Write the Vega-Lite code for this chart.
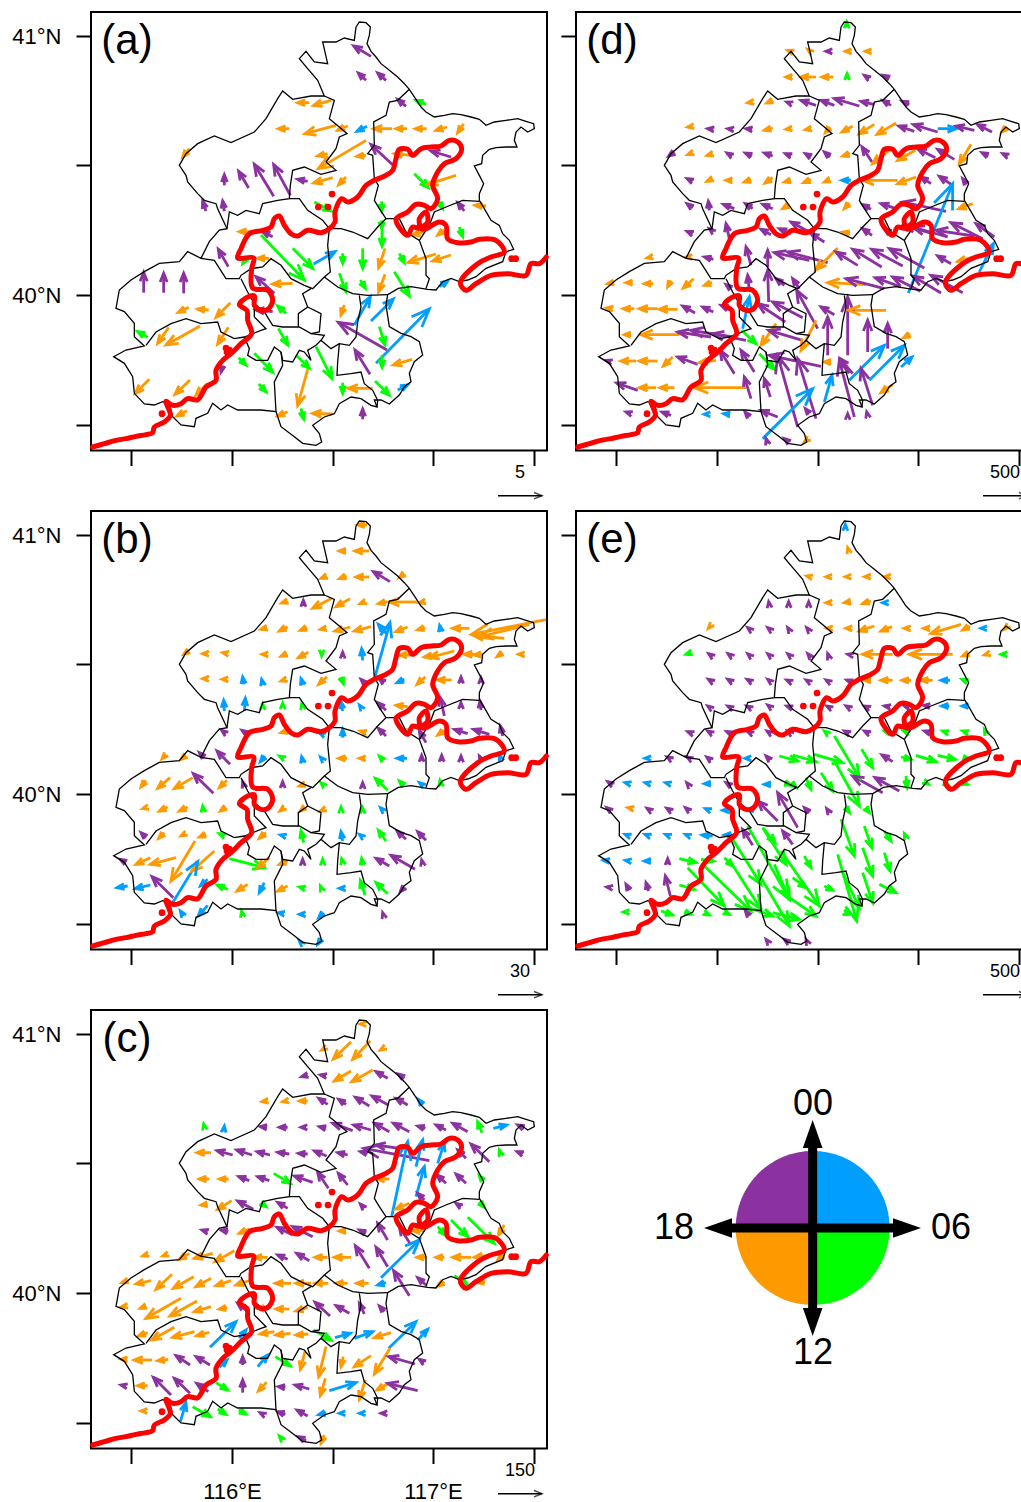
{"$schema":"https://vega.github.io/schema/vega-lite/v6.json","padding":{"left":10,"top":11,"right":0,"bottom":0},"autosize":{"type":"pad"},"background":"white","config":{"view":{"stroke":"black","strokeWidth":2},"font":"Liberation Sans"},
"datasets":{
"black":[{"g":1,"x":795,"y":45},{"g":1,"x":805,"y":30},{"g":1,"x":825,"y":32},{"g":1,"x":838,"y":45},{"g":1,"x":835,"y":70},{"g":1,"x":828,"y":95},{"g":1,"x":840,"y":118},{"g":1,"x":855,"y":135},{"g":1,"x":870,"y":155},{"g":1,"x":895,"y":175},{"g":1,"x":920,"y":195},{"g":1,"x":940,"y":215},{"g":1,"x":955,"y":232},{"g":1,"x":975,"y":262},{"g":1,"x":990,"y":285},{"g":1,"x":1005,"y":300},{"g":1,"x":1030,"y":315},{"g":1,"x":1060,"y":310},{"g":1,"x":1085,"y":305},{"g":1,"x":1110,"y":308},{"g":1,"x":1140,"y":315},{"g":1,"x":1165,"y":322},{"g":1,"x":1185,"y":340},{"g":1,"x":1210,"y":330},{"g":1,"x":1245,"y":325},{"g":1,"x":1280,"y":320},{"g":1,"x":1305,"y":328},{"g":1,"x":1328,"y":335},{"g":1,"x":1330,"y":350},{"g":1,"x":1310,"y":360},{"g":1,"x":1290,"y":345},{"g":1,"x":1275,"y":360},{"g":1,"x":1270,"y":385},{"g":1,"x":1278,"y":405},{"g":1,"x":1245,"y":405},{"g":1,"x":1215,"y":407},{"g":1,"x":1195,"y":412},{"g":1,"x":1175,"y":430},{"g":1,"x":1172,"y":455},{"g":1,"x":1150,"y":462},{"g":1,"x":1165,"y":490},{"g":1,"x":1178,"y":515},{"g":1,"x":1165,"y":545},{"g":1,"x":1165,"y":565},{"g":1,"x":1180,"y":590},{"g":1,"x":1200,"y":625},{"g":1,"x":1225,"y":640},{"g":1,"x":1235,"y":665},{"g":1,"x":1255,"y":685},{"g":1,"x":1268,"y":712},{"g":1,"x":1245,"y":719},{"g":1,"x":1235,"y":749},{"g":1,"x":1185,"y":769},{"g":1,"x":1155,"y":794},{"g":1,"x":1130,"y":804},{"g":1,"x":1105,"y":809},{"g":1,"x":1080,"y":799},{"g":1,"x":1055,"y":809},{"g":1,"x":1035,"y":834},{"g":1,"x":1010,"y":832},{"g":1,"x":960,"y":824},{"g":1,"x":922,"y":829},{"g":1,"x":890,"y":848},{"g":1,"x":885,"y":880},{"g":1,"x":895,"y":944},{"g":1,"x":930,"y":964},{"g":1,"x":960,"y":974},{"g":1,"x":985,"y":989},{"g":1,"x":995,"y":1029},{"g":1,"x":970,"y":1049},{"g":1,"x":955,"y":1084},{"g":1,"x":960,"y":1109},{"g":1,"x":940,"y":1124},{"g":1,"x":925,"y":1149},{"g":1,"x":895,"y":1176},{"g":1,"x":870,"y":1164},{"g":1,"x":850,"y":1164},{"g":1,"x":858,"y":1185},{"g":1,"x":840,"y":1180},{"g":1,"x":810,"y":1160},{"g":1,"x":780,"y":1155},{"g":1,"x":745,"y":1175},{"g":1,"x":730,"y":1205},{"g":1,"x":700,"y":1215},{"g":1,"x":665,"y":1240},{"g":1,"x":685,"y":1265},{"g":1,"x":692,"y":1290},{"g":1,"x":675,"y":1300},{"g":1,"x":635,"y":1294},{"g":1,"x":610,"y":1274},{"g":1,"x":570,"y":1244},{"g":1,"x":555,"y":1199},{"g":1,"x":510,"y":1194},{"g":1,"x":480,"y":1194},{"g":1,"x":440,"y":1194},{"g":1,"x":410,"y":1179},{"g":1,"x":390,"y":1194},{"g":1,"x":365,"y":1174},{"g":1,"x":350,"y":1204},{"g":1,"x":315,"y":1219},{"g":1,"x":310,"y":1244},{"g":1,"x":270,"y":1239},{"g":1,"x":245,"y":1214},{"g":1,"x":235,"y":1174},{"g":1,"x":215,"y":1169},{"g":1,"x":190,"y":1179},{"g":1,"x":160,"y":1176},{"g":1,"x":130,"y":1144},{"g":1,"x":125,"y":1094},{"g":1,"x":100,"y":1054},{"g":1,"x":68,"y":1034},{"g":1,"x":105,"y":1014},{"g":1,"x":160,"y":1002},{"g":1,"x":130,"y":974},{"g":1,"x":130,"y":934},{"g":1,"x":100,"y":899},{"g":1,"x":75,"y":889},{"g":1,"x":85,"y":834},{"g":1,"x":120,"y":804},{"g":1,"x":160,"y":779},{"g":1,"x":205,"y":754},{"g":1,"x":265,"y":749},{"g":1,"x":290,"y":719},{"g":1,"x":330,"y":739},{"g":1,"x":355,"y":689},{"g":1,"x":385,"y":654},{"g":1,"x":408,"y":650},{"g":1,"x":380,"y":590},{"g":1,"x":375,"y":575},{"g":1,"x":340,"y":565},{"g":1,"x":320,"y":545},{"g":1,"x":290,"y":510},{"g":1,"x":285,"y":490},{"g":1,"x":265,"y":460},{"g":1,"x":285,"y":425},{"g":1,"x":320,"y":395},{"g":1,"x":370,"y":372},{"g":1,"x":420,"y":392},{"g":1,"x":490,"y":360},{"g":1,"x":525,"y":320},{"g":1,"x":560,"y":260},{"g":1,"x":575,"y":237},{"g":1,"x":605,"y":262},{"g":1,"x":660,"y":252},{"g":1,"x":700,"y":252},{"g":1,"x":680,"y":205},{"g":1,"x":650,"y":170},{"g":1,"x":625,"y":140},{"g":1,"x":645,"y":118},{"g":1,"x":670,"y":150},{"g":1,"x":710,"y":155},{"g":1,"x":695,"y":90},{"g":1,"x":735,"y":90},{"g":1,"x":760,"y":78},{"g":1,"x":790,"y":85},{"g":1,"x":795,"y":45},
{"g":2,"x":700,"y":252},{"g":2,"x":730,"y":265},{"g":2,"x":715,"y":320},{"g":2,"x":745,"y":345},{"g":2,"x":768,"y":365},{"g":2,"x":745,"y":375},{"g":2,"x":735,"y":410},{"g":2,"x":705,"y":450},{"g":2,"x":735,"y":475},{"g":2,"x":690,"y":487},{"g":2,"x":640,"y":465},{"g":2,"x":605,"y":475},{"g":2,"x":598,"y":520},{"g":2,"x":595,"y":560},{"g":2,"x":560,"y":565},{"g":2,"x":515,"y":575},{"g":2,"x":505,"y":605},{"g":2,"x":465,"y":595},{"g":2,"x":440,"y":610},{"g":2,"x":415,"y":600},{"g":2,"x":408,"y":650},
{"g":3,"x":595,"y":560},{"g":3,"x":625,"y":560},{"g":3,"x":650,"y":595},{"g":3,"x":695,"y":625},{"g":3,"x":715,"y":650},{"g":3,"x":710,"y":700},{"g":3,"x":718,"y":780},{"g":3,"x":700,"y":795},{"g":3,"x":665,"y":830},{"g":3,"x":640,"y":820},{"g":3,"x":600,"y":800},{"g":3,"x":570,"y":760},{"g":3,"x":540,"y":740},{"g":3,"x":515,"y":765},{"g":3,"x":480,"y":770},{"g":3,"x":450,"y":790},{"g":3,"x":445,"y":800},{"g":3,"x":405,"y":800},{"g":3,"x":370,"y":745},{"g":3,"x":330,"y":739},
{"g":4,"x":715,"y":650},{"g":4,"x":750,"y":650},{"g":4,"x":785,"y":660},{"g":4,"x":830,"y":680},{"g":4,"x":860,"y":645},{"g":4,"x":885,"y":620},{"g":4,"x":865,"y":590},{"g":4,"x":850,"y":565},{"g":4,"x":862,"y":520},{"g":4,"x":850,"y":500},{"g":4,"x":845,"y":430},{"g":4,"x":830,"y":425},{"g":4,"x":850,"y":400},{"g":4,"x":848,"y":330},{"g":4,"x":885,"y":310},{"g":4,"x":895,"y":270},{"g":4,"x":920,"y":265},{"g":4,"x":955,"y":232},
{"g":5,"x":885,"y":620},{"g":5,"x":925,"y":620},{"g":5,"x":945,"y":660},{"g":5,"x":985,"y":685},{"g":5,"x":1005,"y":740},{"g":5,"x":1005,"y":790},{"g":5,"x":1015,"y":800},{"g":5,"x":1005,"y":830},
{"g":6,"x":985,"y":685},{"g":6,"x":1015,"y":640},{"g":6,"x":1030,"y":600},{"g":6,"x":1065,"y":585},{"g":6,"x":1115,"y":565},{"g":6,"x":1165,"y":568},
{"g":7,"x":700,"y":795},{"g":7,"x":740,"y":825},{"g":7,"x":785,"y":845},{"g":7,"x":830,"y":850},{"g":7,"x":890,"y":848},
{"g":8,"x":805,"y":850},{"g":8,"x":810,"y":885},{"g":8,"x":800,"y":930},{"g":8,"x":795,"y":975},{"g":8,"x":775,"y":1000},{"g":8,"x":745,"y":995},{"g":8,"x":720,"y":1010},{"g":8,"x":690,"y":985},{"g":8,"x":700,"y":970},{"g":8,"x":660,"y":965},{"g":8,"x":625,"y":945},{"g":8,"x":575,"y":945},{"g":8,"x":545,"y":940},{"g":8,"x":520,"y":900},{"g":8,"x":490,"y":875},{"g":8,"x":470,"y":840},{"g":8,"x":450,"y":800},
{"g":9,"x":660,"y":830},{"g":9,"x":635,"y":845},{"g":9,"x":650,"y":885},{"g":9,"x":622,"y":905},{"g":9,"x":622,"y":945},
{"g":10,"x":650,"y":885},{"g":10,"x":690,"y":905},{"g":10,"x":685,"y":960},{"g":10,"x":660,"y":965},
{"g":11,"x":490,"y":880},{"g":11,"x":490,"y":915},{"g":11,"x":525,"y":950},{"g":11,"x":510,"y":955},{"g":11,"x":460,"y":975},{"g":11,"x":430,"y":980},{"g":11,"x":390,"y":960},{"g":11,"x":380,"y":930},{"g":11,"x":330,"y":935},{"g":11,"x":285,"y":920},{"g":11,"x":240,"y":935},{"g":11,"x":195,"y":960},{"g":11,"x":165,"y":1000},
{"g":12,"x":460,"y":975},{"g":12,"x":475,"y":1010},{"g":12,"x":470,"y":1030},{"g":12,"x":495,"y":1045},{"g":12,"x":530,"y":1045},{"g":12,"x":550,"y":1005},{"g":12,"x":570,"y":1020},{"g":12,"x":575,"y":1045},{"g":12,"x":605,"y":1050},{"g":12,"x":625,"y":1015},{"g":12,"x":640,"y":1020},{"g":12,"x":660,"y":1045},{"g":12,"x":650,"y":1015},{"g":12,"x":675,"y":1000},{"g":12,"x":690,"y":985},
{"g":13,"x":745,"y":995},{"g":13,"x":740,"y":1050},{"g":13,"x":738,"y":1090},{"g":13,"x":780,"y":1085},{"g":13,"x":810,"y":1080},{"g":13,"x":820,"y":1115},{"g":13,"x":845,"y":1135},{"g":13,"x":860,"y":1165},{"g":13,"x":858,"y":1185},
{"g":14,"x":570,"y":1020},{"g":14,"x":575,"y":1060},{"g":14,"x":550,"y":1110},{"g":14,"x":555,"y":1199}],
"red":[{"g":1,"x":5,"y":1305},{"g":1,"x":40,"y":1295},{"g":1,"x":75,"y":1285},{"g":1,"x":105,"y":1280},{"g":1,"x":135,"y":1273},{"g":1,"x":165,"y":1268},{"g":1,"x":185,"y":1262},{"g":1,"x":190,"y":1245},{"g":1,"x":220,"y":1230},{"g":1,"x":238,"y":1210},{"g":1,"x":225,"y":1168},{"g":1,"x":245,"y":1180},{"g":1,"x":270,"y":1175},{"g":1,"x":290,"y":1160},{"g":1,"x":320,"y":1163},{"g":1,"x":345,"y":1125},{"g":1,"x":375,"y":1105},{"g":1,"x":375,"y":1075},{"g":1,"x":395,"y":1045},{"g":1,"x":420,"y":1025},{"g":1,"x":450,"y":995},{"g":1,"x":482,"y":965},{"g":1,"x":470,"y":925},{"g":1,"x":468,"y":895},{"g":1,"x":445,"y":878},{"g":1,"x":470,"y":855},{"g":1,"x":490,"y":852},{"g":1,"x":490,"y":880},{"g":1,"x":510,"y":895},{"g":1,"x":530,"y":892},{"g":1,"x":545,"y":865},{"g":1,"x":530,"y":835},{"g":1,"x":485,"y":828},{"g":1,"x":482,"y":770},{"g":1,"x":488,"y":738},{"g":1,"x":440,"y":738},{"g":1,"x":450,"y":710},{"g":1,"x":475,"y":665},{"g":1,"x":515,"y":655},{"g":1,"x":540,"y":645},{"g":1,"x":550,"y":620},{"g":1,"x":565,"y":612},{"g":1,"x":580,"y":640},{"g":1,"x":600,"y":665},{"g":1,"x":620,"y":672},{"g":1,"x":650,"y":655},{"g":1,"x":690,"y":662},{"g":1,"x":715,"y":650},{"g":1,"x":732,"y":630},{"g":1,"x":732,"y":600},{"g":1,"x":752,"y":560},{"g":1,"x":770,"y":570},{"g":1,"x":800,"y":555},{"g":1,"x":825,"y":520},{"g":1,"x":850,"y":505},{"g":1,"x":885,"y":490},{"g":1,"x":905,"y":475},{"g":1,"x":915,"y":440},{"g":1,"x":925,"y":412},{"g":1,"x":950,"y":412},{"g":1,"x":965,"y":430},{"g":1,"x":990,"y":410},{"g":1,"x":1020,"y":405},{"g":1,"x":1050,"y":402},{"g":1,"x":1075,"y":385},{"g":1,"x":1100,"y":390},{"g":1,"x":1112,"y":410},{"g":1,"x":1095,"y":440},{"g":1,"x":1060,"y":455},{"g":1,"x":1040,"y":480},{"g":1,"x":1025,"y":520},{"g":1,"x":1040,"y":560},{"g":1,"x":1020,"y":590},{"g":1,"x":1000,"y":580},{"g":1,"x":975,"y":577},{"g":1,"x":950,"y":600},{"g":1,"x":915,"y":622},{"g":1,"x":950,"y":670},{"g":1,"x":965,"y":645},{"g":1,"x":985,"y":648},{"g":1,"x":985,"y":620},{"g":1,"x":1005,"y":600},{"g":1,"x":1010,"y":630},{"g":1,"x":990,"y":650},{"g":1,"x":1005,"y":650},{"g":1,"x":1045,"y":630},{"g":1,"x":1065,"y":640},{"g":1,"x":1070,"y":680},{"g":1,"x":1100,"y":692},{"g":1,"x":1140,"y":690},{"g":1,"x":1165,"y":682},{"g":1,"x":1215,"y":685},{"g":1,"x":1240,"y":720},{"g":1,"x":1200,"y":735},{"g":1,"x":1160,"y":755},{"g":1,"x":1108,"y":812},{"g":1,"x":1125,"y":835},{"g":1,"x":1155,"y":815},{"g":1,"x":1200,"y":790},{"g":1,"x":1250,"y":785},{"g":1,"x":1305,"y":790},{"g":1,"x":1320,"y":755},{"g":1,"x":1345,"y":755},{"g":1,"x":1366,"y":735}],
"dots":[{"x":723,"y":546},{"x":682,"y":585},{"x":711,"y":585},{"x":1262,"y":740},{"x":1274,"y":740},{"x":405,"y":1008},{"x":415,"y":1014},{"x":408,"y":1020},{"x":213,"y":1205}],
"a":[{"x":620,"y":272,"u":655,"v":272,"c":"o"},{"x":668,"y":280,"u":720,"v":265,"c":"o"},{"x":562,"y":350,"u":595,"v":350,"c":"o"},{"x":642,"y":365,"u":735,"v":340,"c":"o"},{"x":682,"y":470,"u":825,"v":385,"c":"o"},{"x":668,"y":513,"u":725,"v":497,"c":"o"},{"x":275,"y":435,"u":295,"v":410,"c":"o"},{"x":400,"y":488,"u":400,"v":520,"c":"p"},{"x":443,"y":478,"u":473,"v":528,"c":"p"},{"x":490,"y":457,"u":548,"v":553,"c":"p"},{"x":548,"y":458,"u":598,"v":550,"c":"p"},{"x":620,"y":502,"u":650,"v":508,"c":"p"},{"x":395,"y":567,"u":400,"v":598,"c":"p"},{"x":335,"y":568,"u":345,"v":597,"c":"p"},{"x":720,"y":597,"u":670,"v":570,"c":"g"},{"x":788,"y":102,"u":840,"v":133,"c":"p"},{"x":802,"y":183,"u":825,"v":205,"c":"p"},{"x":860,"y":183,"u":885,"v":205,"c":"p"},{"x":920,"y":262,"u":945,"v":283,"c":"p"},{"x":975,"y":265,"u":1005,"v":277,"c":"g"},{"x":740,"y":355,"u":770,"v":342,"c":"o"},{"x":798,"y":358,"u":828,"v":343,"c":"b"},{"x":848,"y":350,"u":903,"v":350,"c":"o"},{"x":915,"y":350,"u":948,"v":350,"c":"o"},{"x":973,"y":350,"u":1007,"v":350,"c":"o"},{"x":1035,"y":355,"u":1068,"v":345,"c":"o"},{"x":1100,"y":362,"u":1118,"v":335,"c":"o"},{"x":840,"y":398,"u":905,"v":458,"c":"p"},{"x":1020,"y":417,"u":1080,"v":435,"c":"p"},{"x":910,"y":425,"u":960,"v":430,"c":"o"},{"x":798,"y":433,"u":825,"v":430,"c":"o"},{"x":680,"y":432,"u":710,"v":425,"c":"o"},{"x":1012,"y":527,"u":970,"v":485,"c":"g"},{"x":1010,"y":517,"u":1095,"v":490,"c":"o"},{"x":743,"y":518,"u":765,"v":495,"c":"o"},{"x":872,"y":597,"u":872,"v":568,"c":"g"},{"x":1055,"y":590,"u":1045,"v":570,"c":"g"},{"x":1100,"y":572,"u":1120,"v":597,"c":"p"},{"x":1152,"y":580,"u":1185,"v":582,"c":"o"},{"x":872,"y":650,"u":872,"v":625,"c":"g"},{"x":1115,"y":674,"u":1105,"v":645,"c":"g"},{"x":1040,"y":669,"u":1060,"v":654,"c":"o"},{"x":965,"y":669,"u":1000,"v":659,"c":"o"},{"x":873,"y":702,"u":873,"v":654,"c":"g"},{"x":755,"y":754,"u":755,"v":724,"c":"g"},{"x":815,"y":769,"u":815,"v":709,"c":"g"},{"x":863,"y":767,"u":882,"v":709,"c":"o"},{"x":940,"y":752,"u":925,"v":724,"c":"g"},{"x":952,"y":751,"u":1035,"v":726,"c":"o"},{"x":1025,"y":747,"u":1080,"v":729,"c":"o"},{"x":732,"y":719,"u":668,"v":756,"c":"b"},{"x":765,"y":839,"u":745,"v":784,"c":"g"},{"x":823,"y":829,"u":808,"v":804,"c":"g"},{"x":863,"y":839,"u":882,"v":787,"c":"o"},{"x":955,"y":852,"u":910,"v":779,"c":"g"},{"x":1070,"y":807,"u":1045,"v":824,"c":"b"},{"x":838,"y":854,"u":790,"v":939,"c":"b"},{"x":907,"y":861,"u":840,"v":927,"c":"b"},{"x":1015,"y":891,"u":855,"v":1054,"c":"b"},{"x":750,"y":909,"u":760,"v":879,"c":"o"},{"x":742,"y":931,"u":888,"v":1014,"c":"p"},{"x":792,"y":1014,"u":837,"v":1087,"c":"p"},{"x":882,"y":999,"u":865,"v":944,"c":"g"},{"x":873,"y":1066,"u":873,"v":1029,"c":"g"},{"x":907,"y":1059,"u":963,"v":1042,"c":"o"},{"x":723,"y":1099,"u":675,"v":1004,"c":"g"},{"x":755,"y":1144,"u":755,"v":1112,"c":"g"},{"x":772,"y":1129,"u":845,"v":1129,"c":"o"},{"x":895,"y":1149,"u":852,"v":1107,"c":"g"},{"x":950,"y":1119,"u":920,"v":1134,"c":"b"},{"x":665,"y":1204,"u":725,"v":1206,"c":"o"},{"x":815,"y":1191,"u":815,"v":1222,"c":"p"},{"x":158,"y":781,"u":158,"v":842,"c":"p"},{"x":218,"y":784,"u":218,"v":842,"c":"p"},{"x":278,"y":784,"u":278,"v":844,"c":"p"},{"x":382,"y":712,"u":412,"v":764,"c":"p"},{"x":445,"y":659,"u":475,"v":659,"c":"o"},{"x":515,"y":659,"u":545,"v":674,"c":"p"},{"x":640,"y":804,"u":510,"v":669,"c":"g"},{"x":665,"y":769,"u":605,"v":709,"c":"g"},{"x":500,"y":739,"u":535,"v":739,"c":"o"},{"x":455,"y":755,"u":465,"v":740,"c":"g"},{"x":495,"y":794,"u":550,"v":844,"c":"p"},{"x":545,"y":816,"u":605,"v":814,"c":"o"},{"x":560,"y":882,"u":585,"v":904,"c":"g"},{"x":495,"y":894,"u":545,"v":899,"c":"p"},{"x":262,"y":901,"u":293,"v":886,"c":"o"},{"x":320,"y":891,"u":353,"v":894,"c":"o"},{"x":375,"y":916,"u":418,"v":872,"c":"o"},{"x":140,"y":959,"u":170,"v":976,"c":"g"},{"x":200,"y":994,"u":233,"v":946,"c":"o"},{"x":225,"y":999,"u":327,"v":942,"c":"o"},{"x":380,"y":996,"u":412,"v":946,"c":"o"},{"x":590,"y":999,"u":562,"v":949,"c":"g"},{"x":465,"y":1059,"u":443,"v":1037,"c":"g"},{"x":545,"y":1081,"u":490,"v":1024,"c":"g"},{"x":655,"y":1069,"u":615,"v":1029,"c":"g"},{"x":525,"y":1139,"u":503,"v":1116,"c":"g"},{"x":620,"y":1181,"u":650,"v":1072,"c":"o"},{"x":638,"y":1221,"u":630,"v":1189,"c":"g"},{"x":133,"y":1144,"u":175,"v":1102,"c":"o"},{"x":252,"y":1147,"u":297,"v":1104,"c":"o"},{"x":315,"y":1149,"u":350,"v":1114,"c":"o"},{"x":258,"y":1212,"u":288,"v":1196,"c":"o"},{"x":560,"y":1212,"u":590,"v":1199,"c":"o"},{"x":390,"y":1080,"u":395,"v":1060,"c":"p"}],
"b":[{"x":800,"y":42,"u":828,"v":42,"c":"o"},{"x":745,"y":120,"u":765,"v":120,"c":"o"},{"x":792,"y":120,"u":835,"v":120,"c":"o"},{"x":690,"y":202,"u":707,"v":195,"c":"o"},{"x":745,"y":203,"u":767,"v":195,"c":"o"},{"x":795,"y":198,"u":835,"v":198,"c":"o"},{"x":847,"y":182,"u":897,"v":212,"c":"p"},{"x":925,"y":200,"u":940,"v":188,"c":"o"},{"x":572,"y":276,"u":590,"v":270,"c":"o"},{"x":637,"y":268,"u":637,"v":285,"c":"p"},{"x":665,"y":292,"u":722,"v":262,"c":"o"},{"x":735,"y":287,"u":777,"v":263,"c":"o"},{"x":807,"y":278,"u":822,"v":272,"c":"o"},{"x":862,"y":278,"u":890,"v":272,"c":"o"},{"x":895,"y":273,"u":978,"v":273,"c":"o"},{"x":985,"y":275,"u":1000,"v":272,"c":"o"},{"x":510,"y":355,"u":528,"v":350,"c":"o"},{"x":565,"y":360,"u":590,"v":347,"c":"o"},{"x":628,"y":358,"u":648,"v":350,"c":"o"},{"x":688,"y":355,"u":705,"v":352,"c":"o"},{"x":732,"y":360,"u":778,"v":348,"c":"o"},{"x":790,"y":360,"u":840,"v":347,"c":"o"},{"x":897,"y":335,"u":852,"v":497,"c":"b"},{"x":862,"y":340,"u":888,"v":370,"c":"b"},{"x":915,"y":362,"u":950,"v":348,"c":"o"},{"x":980,"y":356,"u":1002,"v":350,"c":"o"},{"x":1046,"y":343,"u":1050,"v":362,"c":"b"},{"x":1085,"y":352,"u":1135,"v":352,"c":"o"},{"x":1142,"y":370,"u":1365,"v":326,"c":"o"},{"x":1165,"y":378,"u":1315,"v":340,"c":"o"},{"x":1145,"y":372,"u":1240,"v":382,"c":"o"},{"x":335,"y":428,"u":350,"v":428,"c":"o"},{"x":395,"y":425,"u":410,"v":428,"c":"o"},{"x":278,"y":430,"u":292,"v":420,"c":"o"},{"x":513,"y":430,"u":528,"v":430,"c":"o"},{"x":570,"y":436,"u":588,"v":428,"c":"o"},{"x":622,"y":440,"u":652,"v":424,"c":"o"},{"x":692,"y":435,"u":692,"v":422,"c":"g"},{"x":755,"y":424,"u":755,"v":438,"c":"p"},{"x":812,"y":413,"u":815,"v":448,"c":"b"},{"x":1015,"y":440,"u":1090,"v":420,"c":"o"},{"x":925,"y":432,"u":960,"v":432,"c":"o"},{"x":1000,"y":438,"u":1040,"v":432,"c":"o"},{"x":1120,"y":430,"u":1165,"v":430,"c":"o"},{"x":1150,"y":432,"u":1175,"v":430,"c":"o"},{"x":1218,"y":437,"u":1235,"v":425,"c":"o"},{"x":1282,"y":430,"u":1298,"v":430,"c":"o"},{"x":335,"y":503,"u":350,"v":503,"c":"o"},{"x":393,"y":505,"u":408,"v":505,"c":"o"},{"x":455,"y":498,"u":458,"v":520,"c":"b"},{"x":512,"y":505,"u":516,"v":522,"c":"b"},{"x":570,"y":510,"u":585,"v":505,"c":"o"},{"x":630,"y":503,"u":636,"v":522,"c":"b"},{"x":683,"y":520,"u":708,"v":497,"c":"o"},{"x":757,"y":518,"u":750,"v":498,"c":"g"},{"x":810,"y":505,"u":820,"v":515,"c":"p"},{"x":865,"y":503,"u":880,"v":515,"c":"p"},{"x":918,"y":515,"u":940,"v":505,"c":"b"},{"x":978,"y":520,"u":1003,"v":497,"c":"o"},{"x":1040,"y":507,"u":1082,"v":507,"c":"o"},{"x":1110,"y":498,"u":1110,"v":515,"c":"p"},{"x":1170,"y":500,"u":1170,"v":515,"c":"p"},{"x":398,"y":568,"u":400,"v":600,"c":"b"},{"x":463,"y":562,"u":460,"v":600,"c":"b"},{"x":515,"y":578,"u":515,"v":592,"c":"g"},{"x":575,"y":576,"u":575,"v":590,"c":"g"},{"x":632,"y":578,"u":635,"v":590,"c":"g"},{"x":750,"y":572,"u":755,"v":600,"c":"b"},{"x":805,"y":582,"u":812,"v":592,"c":"b"},{"x":860,"y":575,"u":885,"v":598,"c":"p"},{"x":915,"y":583,"u":950,"v":587,"c":"o"},{"x":1048,"y":560,"u":1060,"v":615,"c":"p"},{"x":1110,"y":575,"u":1110,"v":590,"c":"p"},{"x":1167,"y":570,"u":1170,"v":597,"c":"p"},{"x":392,"y":658,"u":405,"v":668,"c":"p"},{"x":453,"y":658,"u":468,"v":668,"c":"p"},{"x":570,"y":665,"u":590,"v":660,"c":"o"},{"x":685,"y":665,"u":700,"v":672,"c":"b"},{"x":755,"y":655,"u":755,"v":680,"c":"b"},{"x":808,"y":660,"u":825,"v":665,"c":"o"},{"x":862,"y":652,"u":885,"v":675,"c":"p"},{"x":930,"y":655,"u":945,"v":662,"c":"o"},{"x":985,"y":660,"u":1005,"v":695,"c":"p"},{"x":1040,"y":672,"u":1060,"v":658,"c":"o"},{"x":1090,"y":655,"u":1130,"v":668,"c":"p"},{"x":1147,"y":655,"u":1195,"v":670,"c":"p"},{"x":1228,"y":645,"u":1235,"v":675,"c":"p"},{"x":213,"y":743,"u":225,"v":730,"c":"o"},{"x":270,"y":745,"u":285,"v":733,"c":"o"},{"x":325,"y":725,"u":340,"v":740,"c":"p"},{"x":378,"y":720,"u":417,"v":760,"c":"p"},{"x":508,"y":752,"u":522,"v":735,"c":"b"},{"x":565,"y":735,"u":578,"v":742,"c":"g"},{"x":632,"y":737,"u":636,"v":755,"c":"b"},{"x":688,"y":738,"u":697,"v":748,"c":"b"},{"x":743,"y":742,"u":768,"v":742,"c":"o"},{"x":805,"y":742,"u":822,"v":742,"c":"o"},{"x":865,"y":735,"u":877,"v":748,"c":"g"},{"x":918,"y":742,"u":948,"v":742,"c":"b"},{"x":992,"y":733,"u":992,"v":750,"c":"p"},{"x":1052,"y":733,"u":1052,"v":750,"c":"p"},{"x":1110,"y":735,"u":1110,"v":750,"c":"p"},{"x":1165,"y":735,"u":1170,"v":745,"c":"p"},{"x":1225,"y":733,"u":1230,"v":745,"c":"b"},{"x":150,"y":828,"u":165,"v":808,"c":"o"},{"x":200,"y":832,"u":237,"v":800,"c":"o"},{"x":250,"y":833,"u":305,"v":800,"c":"o"},{"x":307,"y":788,"u":367,"v":847,"c":"p"},{"x":385,"y":830,"u":408,"v":808,"c":"o"},{"x":455,"y":812,"u":460,"v":828,"c":"p"},{"x":575,"y":812,"u":575,"v":828,"c":"p"},{"x":625,"y":825,"u":640,"v":820,"c":"o"},{"x":690,"y":815,"u":697,"v":822,"c":"g"},{"x":815,"y":815,"u":815,"v":830,"c":"p"},{"x":853,"y":802,"u":890,"v":838,"c":"g"},{"x":925,"y":810,"u":940,"v":825,"c":"g"},{"x":985,"y":815,"u":998,"v":825,"c":"b"},{"x":1047,"y":808,"u":1050,"v":825,"c":"g"},{"x":155,"y":893,"u":165,"v":890,"c":"o"},{"x":205,"y":900,"u":230,"v":888,"c":"o"},{"x":265,"y":900,"u":290,"v":888,"c":"o"},{"x":335,"y":885,"u":337,"v":900,"c":"g"},{"x":388,"y":900,"u":405,"v":888,"c":"o"},{"x":567,"y":900,"u":580,"v":890,"c":"o"},{"x":628,"y":900,"u":640,"v":890,"c":"o"},{"x":688,"y":900,"u":700,"v":895,"c":"o"},{"x":750,"y":888,"u":750,"v":900,"c":"g"},{"x":815,"y":890,"u":815,"v":900,"c":"g"},{"x":868,"y":890,"u":878,"v":900,"c":"b"},{"x":150,"y":965,"u":165,"v":980,"c":"p"},{"x":203,"y":982,"u":220,"v":965,"c":"o"},{"x":270,"y":975,"u":283,"v":968,"c":"o"},{"x":325,"y":978,"u":345,"v":970,"c":"o"},{"x":385,"y":968,"u":400,"v":975,"c":"g"},{"x":505,"y":982,"u":525,"v":965,"c":"o"},{"x":568,"y":972,"u":580,"v":975,"c":"b"},{"x":630,"y":960,"u":638,"v":995,"c":"g"},{"x":750,"y":962,"u":755,"v":990,"c":"b"},{"x":805,"y":970,"u":815,"v":978,"c":"b"},{"x":862,"y":958,"u":885,"v":990,"c":"g"},{"x":918,"y":960,"u":945,"v":985,"c":"p"},{"x":980,"y":962,"u":1005,"v":988,"c":"p"},{"x":88,"y":1045,"u":105,"v":1055,"c":"p"},{"x":135,"y":1060,"u":178,"v":1040,"c":"o"},{"x":178,"y":1060,"u":255,"v":1040,"c":"o"},{"x":240,"y":1110,"u":312,"v":990,"c":"o"},{"x":303,"y":1080,"u":370,"v":1020,"c":"o"},{"x":320,"y":1052,"u":245,"v":1175,"c":"b"},{"x":520,"y":1070,"u":415,"v":1043,"c":"g"},{"x":500,"y":1070,"u":535,"v":1040,"c":"o"},{"x":565,"y":1060,"u":590,"v":1050,"c":"o"},{"x":635,"y":1045,"u":635,"v":1060,"c":"p"},{"x":695,"y":1045,"u":695,"v":1058,"c":"g"},{"x":752,"y":1043,"u":755,"v":1055,"c":"g"},{"x":812,"y":1042,"u":815,"v":1062,"c":"g"},{"x":855,"y":1042,"u":895,"v":1065,"c":"p"},{"x":900,"y":1033,"u":972,"v":1075,"c":"p"},{"x":992,"y":1047,"u":995,"v":1060,"c":"p"},{"x":78,"y":1130,"u":110,"v":1125,"c":"b"},{"x":133,"y":1133,"u":178,"v":1122,"c":"b"},{"x":183,"y":1097,"u":247,"v":1160,"c":"p"},{"x":328,"y":1125,"u":350,"v":1105,"c":"b"},{"x":378,"y":1122,"u":410,"v":1135,"c":"g"},{"x":438,"y":1140,"u":470,"v":1120,"c":"o"},{"x":505,"y":1145,"u":520,"v":1115,"c":"b"},{"x":560,"y":1140,"u":590,"v":1125,"c":"o"},{"x":625,"y":1128,"u":640,"v":1132,"c":"g"},{"x":688,"y":1125,"u":692,"v":1135,"c":"g"},{"x":745,"y":1132,"u":760,"v":1132,"c":"b"},{"x":808,"y":1108,"u":822,"v":1152,"c":"g"},{"x":855,"y":1115,"u":890,"v":1148,"c":"g"},{"x":928,"y":1142,"u":940,"v":1128,"c":"p"},{"x":322,"y":1215,"u":350,"v":1183,"c":"b"},{"x":268,"y":1200,"u":278,"v":1215,"c":"b"},{"x":452,"y":1200,"u":455,"v":1215,"c":"g"},{"x":562,"y":1205,"u":578,"v":1208,"c":"b"},{"x":625,"y":1210,"u":640,"v":1210,"c":"b"},{"x":683,"y":1220,"u":698,"v":1205,"c":"b"},{"x":875,"y":1205,"u":878,"v":1215,"c":"p"},{"x":625,"y":1290,"u":632,"v":1297,"c":"b"},{"x":680,"y":1300,"u":690,"v":1285,"c":"b"}],
"c":[{"x":808,"y":42,"u":820,"v":42,"c":"o"},{"x":727,"y":147,"u":780,"v":95,"c":"o"},{"x":785,"y":148,"u":838,"v":92,"c":"o"},{"x":692,"y":120,"u":700,"v":115,"c":"o"},{"x":868,"y":120,"u":880,"v":113,"c":"o"},{"x":632,"y":200,"u":650,"v":195,"c":"p"},{"x":688,"y":195,"u":705,"v":198,"c":"p"},{"x":730,"y":213,"u":780,"v":183,"c":"o"},{"x":782,"y":215,"u":845,"v":180,"c":"o"},{"x":855,"y":185,"u":890,"v":205,"c":"p"},{"x":922,"y":192,"u":940,"v":205,"c":"p"},{"x":513,"y":275,"u":530,"v":273,"c":"o"},{"x":575,"y":275,"u":590,"v":272,"c":"o"},{"x":625,"y":273,"u":650,"v":273,"c":"o"},{"x":683,"y":265,"u":710,"v":283,"c":"p"},{"x":743,"y":268,"u":765,"v":283,"c":"p"},{"x":793,"y":262,"u":835,"v":288,"c":"p"},{"x":843,"y":258,"u":892,"v":285,"c":"p"},{"x":915,"y":265,"u":950,"v":285,"c":"p"},{"x":982,"y":268,"u":995,"v":285,"c":"b"},{"x":338,"y":342,"u":340,"v":352,"c":"g"},{"x":400,"y":348,"u":398,"v":365,"c":"b"},{"x":508,"y":350,"u":528,"v":352,"c":"p"},{"x":565,"y":352,"u":590,"v":352,"c":"p"},{"x":630,"y":352,"u":645,"v":352,"c":"p"},{"x":685,"y":350,"u":705,"v":355,"c":"p"},{"x":725,"y":340,"u":785,"v":362,"c":"p"},{"x":788,"y":345,"u":840,"v":360,"c":"p"},{"x":850,"y":340,"u":895,"v":365,"c":"p"},{"x":907,"y":340,"u":955,"v":365,"c":"p"},{"x":980,"y":348,"u":1003,"v":355,"c":"p"},{"x":1035,"y":345,"u":1065,"v":360,"c":"p"},{"x":1085,"y":340,"u":1130,"v":365,"c":"p"},{"x":1160,"y":335,"u":1173,"v":368,"c":"g"},{"x":1247,"y":345,"u":1207,"v":355,"c":"b"},{"x":1280,"y":345,"u":1300,"v":355,"c":"p"},{"x":318,"y":428,"u":360,"v":428,"c":"o"},{"x":378,"y":422,"u":425,"v":435,"c":"p"},{"x":437,"y":420,"u":483,"v":435,"c":"p"},{"x":498,"y":425,"u":537,"v":435,"c":"p"},{"x":560,"y":427,"u":595,"v":432,"c":"p"},{"x":622,"y":430,"u":650,"v":432,"c":"p"},{"x":670,"y":423,"u":707,"v":438,"c":"p"},{"x":740,"y":428,"u":770,"v":435,"c":"p"},{"x":808,"y":425,"u":830,"v":430,"c":"p"},{"x":818,"y":415,"u":1015,"v":452,"c":"p"},{"x":855,"y":405,"u":925,"v":415,"c":"p"},{"x":950,"y":395,"u":902,"v":620,"c":"b"},{"x":995,"y":390,"u":975,"v":470,"c":"b"},{"x":1060,"y":398,"u":1040,"v":460,"c":"b"},{"x":1140,"y":402,"u":1195,"v":455,"c":"p"},{"x":1225,"y":420,"u":1230,"v":435,"c":"g"},{"x":1278,"y":425,"u":1295,"v":432,"c":"p"},{"x":1000,"y":470,"u":975,"v":560,"c":"b"},{"x":1100,"y":420,"u":1125,"v":445,"c":"p"},{"x":325,"y":507,"u":355,"v":507,"c":"o"},{"x":385,"y":507,"u":413,"v":507,"c":"o"},{"x":443,"y":500,"u":475,"v":512,"c":"p"},{"x":500,"y":500,"u":535,"v":512,"c":"p"},{"x":598,"y":520,"u":548,"v":490,"c":"g"},{"x":610,"y":498,"u":665,"v":517,"c":"p"},{"x":680,"y":487,"u":712,"v":535,"c":"p"},{"x":742,"y":490,"u":770,"v":525,"c":"p"},{"x":858,"y":507,"u":895,"v":507,"c":"o"},{"x":1038,"y":495,"u":1065,"v":520,"c":"p"},{"x":1095,"y":492,"u":1125,"v":520,"c":"p"},{"x":1165,"y":497,"u":1175,"v":510,"c":"g"},{"x":330,"y":585,"u":350,"v":583,"c":"o"},{"x":380,"y":598,"u":422,"v":572,"c":"o"},{"x":440,"y":573,"u":487,"v":598,"c":"p"},{"x":525,"y":590,"u":510,"v":578,"c":"g"},{"x":560,"y":577,"u":590,"v":595,"c":"p"},{"x":915,"y":597,"u":955,"v":580,"c":"o"},{"x":980,"y":550,"u":1000,"v":570,"c":"p"},{"x":808,"y":582,"u":820,"v":595,"c":"p"},{"x":1095,"y":580,"u":1110,"v":590,"c":"p"},{"x":1180,"y":592,"u":1165,"v":575,"c":"g"},{"x":333,"y":660,"u":350,"v":665,"c":"p"},{"x":390,"y":660,"u":412,"v":665,"c":"p"},{"x":445,"y":670,"u":475,"v":657,"c":"o"},{"x":558,"y":652,"u":605,"v":675,"c":"p"},{"x":605,"y":650,"u":665,"v":680,"c":"p"},{"x":745,"y":663,"u":765,"v":663,"c":"o"},{"x":805,"y":660,"u":825,"v":670,"c":"p"},{"x":860,"y":640,"u":890,"v":690,"c":"p"},{"x":925,"y":650,"u":960,"v":705,"c":"p"},{"x":965,"y":662,"u":1000,"v":662,"c":"o"},{"x":1062,"y":675,"u":1040,"v":650,"c":"g"},{"x":1130,"y":680,"u":1080,"v":630,"c":"g"},{"x":1210,"y":700,"u":1130,"v":622,"c":"g"},{"x":1222,"y":675,"u":1240,"v":645,"c":"o"},{"x":155,"y":738,"u":170,"v":733,"c":"o"},{"x":215,"y":738,"u":228,"v":733,"c":"o"},{"x":265,"y":748,"u":295,"v":730,"c":"o"},{"x":310,"y":745,"u":365,"v":730,"c":"o"},{"x":372,"y":755,"u":430,"v":722,"c":"o"},{"x":490,"y":742,"u":530,"v":742,"c":"o"},{"x":560,"y":735,"u":590,"v":748,"c":"p"},{"x":617,"y":730,"u":655,"v":752,"c":"p"},{"x":672,"y":742,"u":710,"v":742,"c":"o"},{"x":730,"y":742,"u":780,"v":742,"c":"o"},{"x":793,"y":707,"u":835,"v":775,"c":"p"},{"x":855,"y":712,"u":890,"v":770,"c":"p"},{"x":985,"y":690,"u":870,"v":803,"c":"b"},{"x":978,"y":742,"u":1005,"v":742,"c":"o"},{"x":1035,"y":742,"u":1060,"v":742,"c":"o"},{"x":1085,"y":742,"u":1140,"v":742,"c":"o"},{"x":1150,"y":742,"u":1200,"v":735,"c":"o"},{"x":1220,"y":750,"u":1240,"v":730,"c":"o"},{"x":93,"y":818,"u":110,"v":812,"c":"o"},{"x":135,"y":822,"u":180,"v":812,"c":"o"},{"x":195,"y":838,"u":243,"v":793,"c":"o"},{"x":247,"y":835,"u":308,"v":800,"c":"o"},{"x":315,"y":830,"u":360,"v":805,"c":"o"},{"x":375,"y":827,"u":420,"v":812,"c":"o"},{"x":435,"y":825,"u":480,"v":810,"c":"o"},{"x":553,"y":820,"u":600,"v":820,"c":"o"},{"x":615,"y":820,"u":660,"v":820,"c":"o"},{"x":672,"y":820,"u":712,"v":820,"c":"o"},{"x":735,"y":820,"u":770,"v":820,"c":"o"},{"x":797,"y":820,"u":833,"v":820,"c":"o"},{"x":860,"y":825,"u":885,"v":818,"c":"b"},{"x":908,"y":782,"u":955,"v":857,"c":"p"},{"x":980,"y":803,"u":1005,"v":825,"c":"p"},{"x":1040,"y":828,"u":1060,"v":815,"c":"o"},{"x":1130,"y":825,"u":1090,"v":797,"c":"g"},{"x":1160,"y":818,"u":1182,"v":815,"c":"o"},{"x":92,"y":890,"u":105,"v":888,"c":"o"},{"x":148,"y":895,"u":165,"v":888,"c":"o"},{"x":165,"y":925,"u":270,"v":865,"c":"o"},{"x":237,"y":918,"u":318,"v":873,"c":"o"},{"x":310,"y":905,"u":360,"v":890,"c":"o"},{"x":385,"y":897,"u":408,"v":893,"c":"o"},{"x":440,"y":880,"u":470,"v":905,"c":"p"},{"x":498,"y":895,"u":535,"v":895,"c":"o"},{"x":555,"y":897,"u":595,"v":897,"c":"o"},{"x":615,"y":903,"u":650,"v":893,"c":"o"},{"x":672,"y":877,"u":717,"v":918,"c":"p"},{"x":735,"y":887,"u":775,"v":910,"c":"p"},{"x":805,"y":880,"u":820,"v":912,"c":"p"},{"x":865,"y":888,"u":880,"v":905,"c":"p"},{"x":143,"y":978,"u":170,"v":968,"c":"o"},{"x":182,"y":990,"u":250,"v":952,"c":"o"},{"x":245,"y":982,"u":310,"v":965,"c":"o"},{"x":317,"y":977,"u":355,"v":967,"c":"o"},{"x":435,"y":935,"u":357,"v":1012,"c":"b"},{"x":465,"y":960,"u":445,"v":985,"c":"b"},{"x":508,"y":972,"u":550,"v":965,"c":"o"},{"x":555,"y":975,"u":598,"v":970,"c":"o"},{"x":615,"y":975,"u":652,"v":972,"c":"o"},{"x":720,"y":990,"u":668,"v":960,"c":"g"},{"x":778,"y":970,"u":732,"v":983,"c":"b"},{"x":845,"y":965,"u":790,"v":985,"c":"b"},{"x":850,"y":983,"u":900,"v":968,"c":"o"},{"x":975,"y":935,"u":893,"v":1015,"c":"b"},{"x":1010,"y":958,"u":980,"v":990,"c":"b"},{"x":90,"y":1048,"u":108,"v":1048,"c":"o"},{"x":130,"y":1050,"u":183,"v":1050,"c":"o"},{"x":200,"y":1052,"u":232,"v":1048,"c":"o"},{"x":255,"y":1037,"u":297,"v":1065,"c":"p"},{"x":315,"y":1040,"u":357,"v":1065,"c":"p"},{"x":408,"y":1050,"u":385,"v":1072,"c":"b"},{"x":455,"y":1040,"u":455,"v":1065,"c":"p"},{"x":530,"y":1035,"u":500,"v":1070,"c":"b"},{"x":597,"y":1067,"u":553,"v":1040,"c":"g"},{"x":628,"y":1078,"u":642,"v":1025,"c":"o"},{"x":683,"y":1100,"u":705,"v":1010,"c":"o"},{"x":750,"y":1070,"u":757,"v":1040,"c":"o"},{"x":790,"y":1070,"u":840,"v":1037,"c":"o"},{"x":850,"y":1092,"u":897,"v":1015,"c":"o"},{"x":893,"y":1040,"u":972,"v":1062,"c":"p"},{"x":985,"y":1048,"u":1000,"v":1058,"c":"p"},{"x":90,"y":1125,"u":105,"v":1128,"c":"p"},{"x":140,"y":1127,"u":170,"v":1127,"c":"o"},{"x":187,"y":1102,"u":240,"v":1155,"c":"p"},{"x":250,"y":1105,"u":297,"v":1150,"c":"p"},{"x":317,"y":1120,"u":352,"v":1145,"c":"p"},{"x":410,"y":1140,"u":375,"v":1118,"c":"g"},{"x":455,"y":1110,"u":455,"v":1148,"c":"p"},{"x":502,"y":1143,"u":527,"v":1117,"c":"o"},{"x":562,"y":1130,"u":583,"v":1132,"c":"p"},{"x":612,"y":1125,"u":655,"v":1137,"c":"p"},{"x":688,"y":1157,"u":703,"v":1105,"c":"o"},{"x":795,"y":1118,"u":715,"v":1142,"c":"b"},{"x":805,"y":1168,"u":823,"v":1110,"c":"o"},{"x":858,"y":1140,"u":890,"v":1122,"c":"o"},{"x":890,"y":1120,"u":980,"v":1142,"c":"p"},{"x":150,"y":1203,"u":165,"v":1203,"c":"o"},{"x":285,"y":1178,"u":268,"v":1235,"c":"b"},{"x":358,"y":1220,"u":305,"v":1190,"c":"g"},{"x":405,"y":1213,"u":380,"v":1197,"c":"g"},{"x":465,"y":1212,"u":443,"v":1200,"c":"g"},{"x":507,"y":1208,"u":520,"v":1215,"c":"p"},{"x":560,"y":1205,"u":583,"v":1213,"c":"p"},{"x":618,"y":1200,"u":650,"v":1218,"c":"p"},{"x":683,"y":1214,"u":705,"v":1208,"c":"b"},{"x":745,"y":1210,"u":755,"v":1210,"c":"b"},{"x":805,"y":1210,"u":818,"v":1210,"c":"b"},{"x":870,"y":1210,"u":885,"v":1210,"c":"p"},{"x":565,"y":1278,"u":575,"v":1290,"c":"g"},{"x":622,"y":1280,"u":645,"v":1292,"c":"p"},{"x":690,"y":1300,"u":700,"v":1275,"c":"o"}],
"d":[{"x":812,"y":30,"u":812,"v":45,"c":"g"},{"x":635,"y":115,"u":648,"v":120,"c":"o"},{"x":695,"y":112,"u":705,"v":120,"c":"o"},{"x":750,"y":118,"u":765,"v":118,"c":"p"},{"x":808,"y":118,"u":822,"v":118,"c":"o"},{"x":868,"y":118,"u":882,"v":118,"c":"o"},{"x":630,"y":195,"u":648,"v":195,"c":"o"},{"x":675,"y":195,"u":720,"v":195,"c":"o"},{"x":738,"y":195,"u":772,"v":195,"c":"o"},{"x":813,"y":185,"u":813,"v":200,"c":"g"},{"x":865,"y":190,"u":880,"v":200,"c":"p"},{"x":922,"y":190,"u":940,"v":200,"c":"p"},{"x":515,"y":272,"u":530,"v":270,"c":"o"},{"x":572,"y":273,"u":590,"v":265,"c":"o"},{"x":632,"y":270,"u":645,"v":275,"c":"p"},{"x":675,"y":265,"u":720,"v":280,"c":"p"},{"x":735,"y":265,"u":775,"v":280,"c":"p"},{"x":775,"y":260,"u":850,"v":282,"c":"p"},{"x":855,"y":268,"u":895,"v":278,"c":"p"},{"x":920,"y":265,"u":945,"v":280,"c":"p"},{"x":978,"y":268,"u":1000,"v":278,"c":"p"},{"x":335,"y":345,"u":350,"v":343,"c":"o"},{"x":395,"y":350,"u":412,"v":352,"c":"p"},{"x":455,"y":350,"u":470,"v":352,"c":"p"},{"x":510,"y":350,"u":528,"v":352,"c":"p"},{"x":565,"y":355,"u":590,"v":348,"c":"o"},{"x":630,"y":352,"u":645,"v":350,"c":"o"},{"x":688,"y":353,"u":705,"v":350,"c":"o"},{"x":748,"y":362,"u":762,"v":345,"c":"o"},{"x":798,"y":360,"u":830,"v":343,"c":"o"},{"x":850,"y":365,"u":895,"v":337,"c":"o"},{"x":903,"y":367,"u":960,"v":333,"c":"o"},{"x":968,"y":342,"u":1015,"v":358,"c":"p"},{"x":1012,"y":338,"u":1085,"v":360,"c":"p"},{"x":1140,"y":350,"u":1085,"v":350,"c":"b"},{"x":1140,"y":342,"u":1195,"v":355,"c":"p"},{"x":1205,"y":338,"u":1248,"v":360,"c":"p"},{"x":1277,"y":360,"u":1292,"v":345,"c":"o"},{"x":278,"y":432,"u":295,"v":420,"c":"p"},{"x":335,"y":428,"u":350,"v":422,"c":"o"},{"x":393,"y":430,"u":410,"v":425,"c":"o"},{"x":453,"y":423,"u":468,"v":432,"c":"p"},{"x":508,"y":423,"u":528,"v":432,"c":"p"},{"x":565,"y":423,"u":590,"v":432,"c":"p"},{"x":628,"y":425,"u":645,"v":432,"c":"p"},{"x":688,"y":425,"u":705,"v":435,"c":"p"},{"x":745,"y":420,"u":762,"v":435,"c":"p"},{"x":800,"y":432,"u":822,"v":425,"c":"o"},{"x":858,"y":405,"u":888,"v":450,"c":"p"},{"x":890,"y":455,"u":945,"v":410,"c":"o"},{"x":965,"y":445,"u":1018,"v":415,"c":"o"},{"x":1025,"y":410,"u":1078,"v":437,"c":"p"},{"x":1085,"y":412,"u":1135,"v":442,"c":"p"},{"x":1150,"y":455,"u":1185,"v":397,"c":"o"},{"x":1218,"y":422,"u":1237,"v":432,"c":"p"},{"x":1280,"y":425,"u":1295,"v":432,"c":"p"},{"x":333,"y":500,"u":350,"v":508,"c":"p"},{"x":393,"y":508,"u":410,"v":500,"c":"o"},{"x":450,"y":505,"u":468,"v":505,"c":"o"},{"x":505,"y":510,"u":525,"v":503,"c":"o"},{"x":567,"y":513,"u":590,"v":497,"c":"o"},{"x":625,"y":510,"u":645,"v":505,"c":"o"},{"x":683,"y":512,"u":705,"v":503,"c":"o"},{"x":745,"y":510,"u":762,"v":503,"c":"o"},{"x":798,"y":505,"u":825,"v":505,"c":"b"},{"x":860,"y":505,"u":965,"v":505,"c":"o"},{"x":965,"y":515,"u":1020,"v":495,"c":"o"},{"x":1035,"y":495,"u":1065,"v":515,"c":"p"},{"x":1090,"y":493,"u":1130,"v":520,"c":"p"},{"x":1160,"y":500,"u":1172,"v":517,"c":"p"},{"x":333,"y":575,"u":350,"v":588,"c":"p"},{"x":397,"y":568,"u":400,"v":595,"c":"p"},{"x":442,"y":577,"u":475,"v":590,"c":"p"},{"x":508,"y":575,"u":530,"v":590,"c":"p"},{"x":560,"y":577,"u":590,"v":590,"c":"p"},{"x":620,"y":590,"u":640,"v":578,"c":"o"},{"x":805,"y":590,"u":820,"v":573,"c":"o"},{"x":860,"y":578,"u":885,"v":592,"c":"p"},{"x":915,"y":575,"u":960,"v":590,"c":"p"},{"x":980,"y":570,"u":1110,"v":598,"c":"p"},{"x":1130,"y":515,"u":997,"v":843,"c":"b"},{"x":1148,"y":590,"u":1190,"v":575,"c":"o"},{"x":333,"y":658,"u":350,"v":665,"c":"p"},{"x":400,"y":650,"u":412,"v":660,"c":"p"},{"x":450,"y":635,"u":460,"v":680,"c":"p"},{"x":555,"y":652,"u":585,"v":668,"c":"p"},{"x":610,"y":650,"u":645,"v":665,"c":"p"},{"x":645,"y":630,"u":700,"v":660,"c":"p"},{"x":705,"y":665,"u":745,"v":690,"c":"p"},{"x":800,"y":660,"u":822,"v":665,"c":"o"},{"x":860,"y":650,"u":888,"v":670,"c":"p"},{"x":925,"y":650,"u":950,"v":668,"c":"p"},{"x":985,"y":640,"u":1070,"v":665,"c":"p"},{"x":1010,"y":645,"u":1115,"v":675,"c":"p"},{"x":1080,"y":655,"u":1195,"v":672,"c":"p"},{"x":1125,"y":632,"u":1220,"v":680,"c":"p"},{"x":1200,"y":635,"u":1255,"v":675,"c":"p"},{"x":1252,"y":695,"u":1210,"v":780,"c":"b"},{"x":213,"y":738,"u":228,"v":735,"c":"o"},{"x":330,"y":735,"u":345,"v":735,"c":"o"},{"x":385,"y":735,"u":412,"v":742,"c":"p"},{"x":510,"y":705,"u":525,"v":760,"c":"p"},{"x":575,"y":715,"u":575,"v":765,"c":"p"},{"x":595,"y":722,"u":700,"v":745,"c":"p"},{"x":635,"y":720,"u":755,"v":752,"c":"p"},{"x":720,"y":773,"u":785,"v":708,"c":"o"},{"x":780,"y":720,"u":845,"v":760,"c":"p"},{"x":830,"y":712,"u":917,"v":765,"c":"p"},{"x":887,"y":712,"u":980,"v":762,"c":"p"},{"x":940,"y":710,"u":1045,"v":768,"c":"p"},{"x":1085,"y":732,"u":1125,"v":755,"c":"p"},{"x":1145,"y":748,"u":1190,"v":735,"c":"o"},{"x":95,"y":815,"u":110,"v":812,"c":"o"},{"x":150,"y":812,"u":170,"v":812,"c":"o"},{"x":205,"y":815,"u":232,"v":815,"c":"o"},{"x":275,"y":825,"u":285,"v":805,"c":"o"},{"x":322,"y":828,"u":353,"v":800,"c":"o"},{"x":385,"y":820,"u":408,"v":812,"c":"o"},{"x":450,"y":818,"u":465,"v":830,"c":"p"},{"x":755,"y":812,"u":870,"v":818,"c":"o"},{"x":810,"y":800,"u":925,"v":830,"c":"p"},{"x":898,"y":797,"u":975,"v":825,"c":"p"},{"x":950,"y":795,"u":1033,"v":838,"c":"p"},{"x":1010,"y":792,"u":1095,"v":843,"c":"p"},{"x":1065,"y":790,"u":1160,"v":842,"c":"p"},{"x":575,"y":775,"u":578,"v":870,"c":"p"},{"x":515,"y":790,"u":520,"v":835,"c":"p"},{"x":600,"y":800,"u":625,"v":820,"c":"p"},{"x":650,"y":800,"u":670,"v":830,"c":"p"},{"x":92,"y":888,"u":110,"v":890,"c":"o"},{"x":142,"y":890,"u":175,"v":890,"c":"o"},{"x":190,"y":890,"u":245,"v":890,"c":"o"},{"x":250,"y":892,"u":305,"v":892,"c":"o"},{"x":320,"y":882,"u":357,"v":903,"c":"p"},{"x":380,"y":885,"u":412,"v":900,"c":"p"},{"x":435,"y":880,"u":470,"v":895,"c":"p"},{"x":520,"y":855,"u":500,"v":950,"c":"b"},{"x":545,"y":875,"u":628,"v":930,"c":"p"},{"x":590,"y":870,"u":680,"v":917,"c":"p"},{"x":662,"y":835,"u":725,"v":950,"c":"p"},{"x":735,"y":885,"u":775,"v":908,"c":"p"},{"x":815,"y":855,"u":815,"v":1030,"c":"p"},{"x":818,"y":895,"u":930,"v":895,"c":"o"},{"x":145,"y":968,"u":165,"v":968,"c":"o"},{"x":195,"y":968,"u":310,"v":968,"c":"o"},{"x":305,"y":960,"u":405,"v":975,"c":"p"},{"x":345,"y":955,"u":470,"v":975,"c":"p"},{"x":410,"y":965,"u":510,"v":985,"c":"p"},{"x":540,"y":995,"u":497,"v":955,"c":"g"},{"x":555,"y":1000,"u":600,"v":935,"c":"o"},{"x":578,"y":955,"u":680,"v":985,"c":"p"},{"x":675,"y":1015,"u":720,"v":925,"c":"o"},{"x":755,"y":915,"u":755,"v":1030,"c":"p"},{"x":875,"y":925,"u":875,"v":1020,"c":"p"},{"x":935,"y":935,"u":935,"v":1010,"c":"p"},{"x":983,"y":977,"u":1003,"v":967,"c":"o"},{"x":90,"y":1045,"u":105,"v":1050,"c":"p"},{"x":135,"y":1047,"u":180,"v":1047,"c":"o"},{"x":190,"y":1047,"u":245,"v":1047,"c":"o"},{"x":262,"y":1062,"u":290,"v":1035,"c":"o"},{"x":305,"y":1035,"u":365,"v":1057,"c":"p"},{"x":370,"y":1052,"u":420,"v":1045,"c":"o"},{"x":432,"y":1015,"u":475,"v":1085,"c":"p"},{"x":495,"y":1015,"u":535,"v":1080,"c":"p"},{"x":595,"y":1072,"u":550,"v":1025,"c":"g"},{"x":580,"y":1030,"u":735,"v":1063,"c":"p"},{"x":745,"y":1050,"u":765,"v":1050,"c":"o"},{"x":793,"y":1040,"u":830,"v":1085,"c":"p"},{"x":925,"y":1000,"u":820,"v":1105,"c":"b"},{"x":985,"y":1000,"u":880,"v":1105,"c":"b"},{"x":1008,"y":1035,"u":975,"v":1065,"c":"b"},{"x":122,"y":1113,"u":185,"v":1135,"c":"p"},{"x":190,"y":1127,"u":240,"v":1127,"c":"o"},{"x":252,"y":1127,"u":295,"v":1127,"c":"o"},{"x":355,"y":1127,"u":510,"v":1127,"c":"o"},{"x":505,"y":1095,"u":525,"v":1160,"c":"p"},{"x":565,"y":1100,"u":583,"v":1155,"c":"p"},{"x":605,"y":1030,"u":665,"v":1245,"c":"p"},{"x":665,"y":1040,"u":720,"v":1220,"c":"p"},{"x":768,"y":1090,"u":745,"v":1170,"c":"b"},{"x":790,"y":1045,"u":835,"v":1215,"c":"p"},{"x":855,"y":1070,"u":890,"v":1180,"c":"p"},{"x":915,"y":1142,"u":950,"v":1118,"c":"o"},{"x":710,"y":1130,"u":560,"v":1280,"c":"b"},{"x":150,"y":1200,"u":165,"v":1205,"c":"p"},{"x":258,"y":1200,"u":285,"v":1210,"c":"p"},{"x":385,"y":1207,"u":395,"v":1207,"c":"b"},{"x":443,"y":1205,"u":462,"v":1207,"c":"b"},{"x":507,"y":1200,"u":520,"v":1215,"c":"p"},{"x":555,"y":1195,"u":605,"v":1215,"c":"p"},{"x":688,"y":1190,"u":700,"v":1205,"c":"p"},{"x":815,"y":1205,"u":815,"v":1215,"c":"p"},{"x":872,"y":1200,"u":875,"v":1212,"c":"p"},{"x":570,"y":1280,"u":575,"v":1295,"c":"p"},{"x":625,"y":1280,"u":640,"v":1292,"c":"p"},{"x":685,"y":1290,"u":697,"v":1280,"c":"o"}],
"e":[{"x":808,"y":40,"u":808,"v":55,"c":"b"},{"x":815,"y":110,"u":818,"v":120,"c":"o"},{"x":692,"y":195,"u":700,"v":197,"c":"o"},{"x":750,"y":197,"u":760,"v":197,"c":"o"},{"x":808,"y":197,"u":818,"v":197,"c":"o"},{"x":866,"y":197,"u":880,"v":197,"c":"o"},{"x":926,"y":197,"u":940,"v":197,"c":"o"},{"x":578,"y":272,"u":580,"v":285,"c":"p"},{"x":638,"y":272,"u":638,"v":285,"c":"p"},{"x":698,"y":272,"u":698,"v":285,"c":"p"},{"x":750,"y":275,"u":765,"v":275,"c":"o"},{"x":805,"y":275,"u":825,"v":272,"c":"o"},{"x":860,"y":278,"u":885,"v":270,"c":"o"},{"x":920,"y":275,"u":930,"v":275,"c":"b"},{"x":397,"y":352,"u":405,"v":343,"c":"o"},{"x":515,"y":350,"u":525,"v":358,"c":"p"},{"x":575,"y":350,"u":585,"v":358,"c":"p"},{"x":635,"y":350,"u":640,"v":358,"c":"p"},{"x":692,"y":350,"u":700,"v":360,"c":"p"},{"x":752,"y":352,"u":765,"v":352,"c":"o"},{"x":810,"y":352,"u":825,"v":352,"c":"o"},{"x":850,"y":360,"u":895,"v":345,"c":"o"},{"x":915,"y":360,"u":948,"v":347,"c":"o"},{"x":985,"y":352,"u":1000,"v":352,"c":"o"},{"x":1043,"y":352,"u":1060,"v":352,"c":"o"},{"x":1065,"y":367,"u":1155,"v":340,"c":"o"},{"x":1160,"y":357,"u":1182,"v":345,"c":"o"},{"x":1215,"y":352,"u":1225,"v":352,"c":"b"},{"x":1285,"y":355,"u":1295,"v":345,"c":"o"},{"x":330,"y":430,"u":345,"v":425,"c":"g"},{"x":398,"y":428,"u":410,"v":437,"c":"p"},{"x":456,"y":428,"u":468,"v":437,"c":"p"},{"x":515,"y":428,"u":525,"v":437,"c":"p"},{"x":575,"y":428,"u":585,"v":437,"c":"p"},{"x":635,"y":428,"u":645,"v":437,"c":"p"},{"x":695,"y":428,"u":705,"v":440,"c":"p"},{"x":755,"y":428,"u":760,"v":442,"c":"p"},{"x":815,"y":430,"u":825,"v":432,"c":"p"},{"x":1000,"y":430,"u":1130,"v":430,"c":"o"},{"x":860,"y":430,"u":950,"v":430,"c":"o"},{"x":1160,"y":435,"u":1178,"v":427,"c":"o"},{"x":1225,"y":432,"u":1238,"v":428,"c":"o"},{"x":1275,"y":430,"u":1290,"v":430,"c":"g"},{"x":397,"y":505,"u":410,"v":513,"c":"p"},{"x":455,"y":505,"u":468,"v":513,"c":"p"},{"x":513,"y":505,"u":527,"v":513,"c":"p"},{"x":575,"y":505,"u":585,"v":513,"c":"p"},{"x":632,"y":507,"u":645,"v":513,"c":"p"},{"x":690,"y":507,"u":700,"v":513,"c":"p"},{"x":750,"y":507,"u":760,"v":513,"c":"p"},{"x":812,"y":507,"u":825,"v":512,"c":"p"},{"x":865,"y":508,"u":885,"v":508,"c":"o"},{"x":915,"y":508,"u":950,"v":508,"c":"o"},{"x":978,"y":508,"u":1005,"v":508,"c":"o"},{"x":1035,"y":508,"u":1070,"v":508,"c":"o"},{"x":1095,"y":508,"u":1122,"v":508,"c":"b"},{"x":1158,"y":505,"u":1170,"v":510,"c":"g"},{"x":395,"y":585,"u":405,"v":592,"c":"p"},{"x":455,"y":585,"u":468,"v":592,"c":"p"},{"x":512,"y":585,"u":525,"v":592,"c":"p"},{"x":575,"y":582,"u":585,"v":590,"c":"p"},{"x":632,"y":585,"u":645,"v":590,"c":"p"},{"x":752,"y":585,"u":765,"v":592,"c":"p"},{"x":810,"y":585,"u":822,"v":592,"c":"p"},{"x":865,"y":585,"u":880,"v":592,"c":"p"},{"x":925,"y":585,"u":942,"v":588,"c":"p"},{"x":985,"y":585,"u":1000,"v":590,"c":"p"},{"x":1043,"y":583,"u":1060,"v":585,"c":"p"},{"x":1097,"y":585,"u":1120,"v":585,"c":"b"},{"x":1158,"y":585,"u":1175,"v":585,"c":"b"},{"x":335,"y":662,"u":350,"v":668,"c":"p"},{"x":395,"y":660,"u":408,"v":668,"c":"p"},{"x":452,"y":662,"u":465,"v":668,"c":"p"},{"x":515,"y":662,"u":527,"v":668,"c":"p"},{"x":573,"y":660,"u":585,"v":668,"c":"p"},{"x":635,"y":660,"u":645,"v":668,"c":"p"},{"x":745,"y":660,"u":755,"v":668,"c":"g"},{"x":805,"y":660,"u":820,"v":668,"c":"p"},{"x":865,"y":660,"u":880,"v":668,"c":"p"},{"x":925,"y":660,"u":940,"v":665,"c":"g"},{"x":983,"y":660,"u":995,"v":665,"c":"g"},{"x":1045,"y":660,"u":1060,"v":665,"c":"p"},{"x":1100,"y":660,"u":1115,"v":665,"c":"g"},{"x":1160,"y":660,"u":1175,"v":665,"c":"g"},{"x":1225,"y":655,"u":1230,"v":665,"c":"g"},{"x":207,"y":742,"u":220,"v":742,"c":"b"},{"x":273,"y":738,"u":285,"v":745,"c":"p"},{"x":333,"y":738,"u":345,"v":745,"c":"p"},{"x":392,"y":738,"u":405,"v":748,"c":"p"},{"x":507,"y":742,"u":522,"v":742,"c":"b"},{"x":570,"y":735,"u":583,"v":748,"c":"p"},{"x":665,"y":750,"u":610,"v":735,"c":"g"},{"x":720,"y":752,"u":650,"v":732,"c":"g"},{"x":800,"y":755,"u":715,"v":730,"c":"g"},{"x":850,"y":800,"u":775,"v":675,"c":"g"},{"x":890,"y":770,"u":857,"v":715,"c":"g"},{"x":918,"y":732,"u":950,"v":752,"c":"p"},{"x":1005,"y":745,"u":975,"v":738,"c":"g"},{"x":1080,"y":752,"u":1020,"v":733,"c":"g"},{"x":1138,"y":745,"u":1085,"v":733,"c":"g"},{"x":1180,"y":745,"u":1160,"v":740,"c":"g"},{"x":95,"y":812,"u":110,"v":822,"c":"p"},{"x":147,"y":815,"u":160,"v":818,"c":"b"},{"x":207,"y":815,"u":220,"v":818,"c":"b"},{"x":268,"y":815,"u":280,"v":818,"c":"b"},{"x":332,"y":815,"u":340,"v":825,"c":"p"},{"x":385,"y":818,"u":405,"v":818,"c":"b"},{"x":450,"y":815,"u":465,"v":825,"c":"p"},{"x":565,"y":820,"u":585,"v":820,"c":"b"},{"x":645,"y":822,"u":625,"v":815,"c":"g"},{"x":660,"y":830,"u":645,"v":815,"c":"g"},{"x":705,"y":835,"u":690,"v":800,"c":"g"},{"x":770,"y":840,"u":735,"v":785,"c":"g"},{"x":850,"y":885,"u":775,"v":750,"c":"g"},{"x":830,"y":795,"u":920,"v":845,"c":"p"},{"x":897,"y":800,"u":970,"v":840,"c":"p"},{"x":993,"y":830,"u":990,"v":795,"c":"g"},{"x":1058,"y":820,"u":1045,"v":812,"c":"g"},{"x":1120,"y":825,"u":1105,"v":815,"c":"g"},{"x":1175,"y":820,"u":1160,"v":815,"c":"g"},{"x":92,"y":890,"u":105,"v":900,"c":"p"},{"x":155,"y":890,"u":170,"v":893,"c":"o"},{"x":213,"y":892,"u":225,"v":900,"c":"p"},{"x":272,"y":892,"u":285,"v":900,"c":"p"},{"x":328,"y":890,"u":340,"v":900,"c":"p"},{"x":388,"y":893,"u":400,"v":898,"c":"b"},{"x":440,"y":898,"u":470,"v":898,"c":"b"},{"x":515,"y":895,"u":530,"v":895,"c":"b"},{"x":545,"y":870,"u":605,"v":930,"c":"p"},{"x":605,"y":845,"u":665,"v":950,"c":"p"},{"x":685,"y":890,"u":700,"v":905,"c":"p"},{"x":752,"y":893,"u":760,"v":905,"c":"p"},{"x":820,"y":905,"u":810,"v":890,"c":"g"},{"x":880,"y":905,"u":868,"v":890,"c":"g"},{"x":147,"y":970,"u":160,"v":975,"c":"b"},{"x":207,"y":970,"u":220,"v":975,"c":"b"},{"x":268,"y":970,"u":280,"v":975,"c":"b"},{"x":328,"y":970,"u":340,"v":975,"c":"b"},{"x":378,"y":972,"u":410,"v":975,"c":"b"},{"x":445,"y":972,"u":470,"v":972,"c":"b"},{"x":500,"y":955,"u":530,"v":1003,"c":"p"},{"x":597,"y":995,"u":560,"v":950,"c":"g"},{"x":620,"y":960,"u":650,"v":1000,"c":"p"},{"x":835,"y":1035,"u":795,"v":925,"c":"g"},{"x":887,"y":1010,"u":865,"v":945,"c":"g"},{"x":945,"y":990,"u":925,"v":960,"c":"g"},{"x":985,"y":968,"u":990,"v":980,"c":"g"},{"x":82,"y":1048,"u":100,"v":1050,"c":"b"},{"x":148,"y":1048,"u":162,"v":1050,"c":"b"},{"x":205,"y":1050,"u":225,"v":1050,"c":"b"},{"x":275,"y":1043,"u":275,"v":1060,"c":"p"},{"x":360,"y":1055,"u":310,"v":1043,"c":"g"},{"x":413,"y":1050,"u":375,"v":1045,"c":"g"},{"x":470,"y":1065,"u":445,"v":1040,"c":"g"},{"x":445,"y":1185,"u":335,"v":1070,"c":"g"},{"x":525,"y":1200,"u":385,"v":1065,"c":"g"},{"x":555,"y":1195,"u":465,"v":1055,"c":"g"},{"x":555,"y":1120,"u":470,"v":985,"c":"g"},{"x":640,"y":1165,"u":515,"v":945,"c":"g"},{"x":630,"y":1060,"u":560,"v":950,"c":"g"},{"x":640,"y":1165,"u":595,"v":1060,"c":"g"},{"x":730,"y":1185,"u":615,"v":1020,"c":"g"},{"x":640,"y":1245,"u":555,"v":1100,"c":"g"},{"x":670,"y":1225,"u":590,"v":1205,"c":"g"},{"x":690,"y":1130,"u":650,"v":1100,"c":"g"},{"x":720,"y":1215,"u":640,"v":1160,"c":"g"},{"x":705,"y":1070,"u":685,"v":1035,"c":"g"},{"x":842,"y":1230,"u":785,"v":1030,"c":"g"},{"x":850,"y":1190,"u":800,"v":1085,"c":"g"},{"x":890,"y":1095,"u":860,"v":1010,"c":"g"},{"x":890,"y":1175,"u":860,"v":1085,"c":"g"},{"x":942,"y":1080,"u":925,"v":1025,"c":"g"},{"x":960,"y":1145,"u":910,"v":1120,"c":"g"},{"x":770,"y":1138,"u":745,"v":1125,"c":"g"},{"x":820,"y":1210,"u":805,"v":1205,"c":"g"},{"x":92,"y":1128,"u":105,"v":1130,"c":"p"},{"x":150,"y":1120,"u":160,"v":1138,"c":"p"},{"x":210,"y":1115,"u":218,"v":1140,"c":"p"},{"x":268,"y":1095,"u":283,"v":1155,"c":"p"},{"x":355,"y":1135,"u":310,"v":1122,"c":"g"},{"x":142,"y":1203,"u":155,"v":1203,"c":"g"},{"x":290,"y":1212,"u":255,"v":1200,"c":"g"},{"x":345,"y":1210,"u":325,"v":1203,"c":"g"},{"x":400,"y":1212,"u":385,"v":1205,"c":"g"},{"x":460,"y":1210,"u":445,"v":1203,"c":"g"},{"x":508,"y":1200,"u":520,"v":1215,"c":"p"},{"x":590,"y":1215,"u":520,"v":1190,"c":"g"},{"x":570,"y":1285,"u":578,"v":1295,"c":"p"},{"x":625,"y":1285,"u":638,"v":1295,"c":"p"},{"x":690,"y":1285,"u":695,"v":1295,"c":"p"}],
"ref":[{"x":1353,"y":1451,"u":1221,"v":1451}]
},
"bounds":"flush","columns":2,"spacing":{"row":60,"column":29},"concat":[
{"width":456,"height":438.5,"encoding":{"x":{"field":"x","type":"quantitative","title":null,"scale":{"domain":[0,1368],"nice":false,"zero":false},"axis":{"values":[120,423,726,1026,1329],"grid":false,"domain":false,"tickSize":15,"tickWidth":2,"tickColor":"black","labels":false}},"y":{"field":"y","type":"quantitative","title":null,"scale":{"domain":[0,1315.5],"reverse":true,"nice":false,"zero":false},"axis":{"values":[72,459,849,1239],"grid":false,"domain":false,"tickSize":15,"tickWidth":2,"tickColor":"black","labelFont":"Liberation Sans","labelFontSize":22,"labelColor":"black","labelPadding":15,"labelExpr":"datum.value==72?'41°N':datum.value==849?'40°N':''"}}},"layer":[
{"data":{"name":"a"},"transform":[{"calculate":"atan2(datum.x-datum.u,datum.v-datum.y)*180/PI","as":"ang"},{"calculate":"pow(5.5+0.055*sqrt(pow(datum.x-datum.u,2)+pow(datum.y-datum.v,2)),2)","as":"sz"}],"layer":[{"mark":{"type":"rule","strokeWidth":2.8},"encoding":{"x2":{"field":"u"},"y2":{"field":"v"},"color":{"field":"c","scale":{"domain":["p","b","g","o"],"range":["#8B31A0","#009FFF","#00FF00","#FF9900"]},"legend":null}}},{"mark":{"type":"point","shape":"M-.8,2L0,0L.8,2","filled":false,"strokeWidth":2.8,"opacity":1},"encoding":{"angle":{"field":"ang","type":"quantitative","scale":null},"size":{"field":"sz","type":"quantitative","scale":null},"color":{"field":"c","scale":{"domain":["p","b","g","o"],"range":["#8B31A0","#009FFF","#00FF00","#FF9900"]},"legend":null}}}]},
{"data":{"name":"black"},"mark":{"type":"line","stroke":"black","strokeWidth":1.3},"encoding":{"detail":{"field":"g"},"order":{"value":null}}},
{"data":{"name":"red"},"mark":{"type":"line","stroke":"#FF0000","strokeWidth":5,"strokeCap":"round","strokeJoin":"round","interpolate":"catmull-rom"},"encoding":{"detail":{"field":"g"},"order":{"value":null}}},
{"data":{"name":"dots"},"mark":{"type":"point","shape":"circle","filled":true,"color":"#FF0000","opacity":1,"size":45}},
{"data":{"name":"ref"},"layer":[{"mark":{"type":"rule","strokeWidth":1.5,"color":"black","clip":false},"encoding":{"x2":{"field":"u"},"y2":{"field":"v"}}},{"mark":{"type":"point","shape":"M-.8,2L0,0L.8,2","filled":false,"strokeWidth":1.5,"color":"black","size":64,"angle":90}}]},
{"data":{"values":[{"x":108,"y":87,"t":"(a)"}]},"mark":{"type":"text","fontSize":42,"font":"Liberation Sans","color":"black"},"encoding":{"text":{"field":"t"}}},
{"data":{"values":[{"x":1287,"y":1384,"t":"5"}]},"mark":{"type":"text","fontSize":18,"font":"Liberation Sans","color":"black"},"encoding":{"text":{"field":"t"}}}
]},
{"width":456,"height":438.5,"encoding":{"x":{"field":"x","type":"quantitative","title":null,"scale":{"domain":[0,1368],"nice":false,"zero":false},"axis":{"values":[120,423,726,1026,1329],"grid":false,"domain":false,"tickSize":15,"tickWidth":2,"tickColor":"black","labels":false}},"y":{"field":"y","type":"quantitative","title":null,"scale":{"domain":[0,1315.5],"reverse":true,"nice":false,"zero":false},"axis":{"values":[72,459,849,1239],"grid":false,"domain":false,"tickSize":15,"tickWidth":2,"tickColor":"black","labels":false}}},"layer":[
{"data":{"name":"d"},"transform":[{"calculate":"atan2(datum.x-datum.u,datum.v-datum.y)*180/PI","as":"ang"},{"calculate":"pow(5.5+0.055*sqrt(pow(datum.x-datum.u,2)+pow(datum.y-datum.v,2)),2)","as":"sz"}],"layer":[{"mark":{"type":"rule","strokeWidth":2.8},"encoding":{"x2":{"field":"u"},"y2":{"field":"v"},"color":{"field":"c","scale":{"domain":["p","b","g","o"],"range":["#8B31A0","#009FFF","#00FF00","#FF9900"]},"legend":null}}},{"mark":{"type":"point","shape":"M-.8,2L0,0L.8,2","filled":false,"strokeWidth":2.8,"opacity":1},"encoding":{"angle":{"field":"ang","type":"quantitative","scale":null},"size":{"field":"sz","type":"quantitative","scale":null},"color":{"field":"c","scale":{"domain":["p","b","g","o"],"range":["#8B31A0","#009FFF","#00FF00","#FF9900"]},"legend":null}}}]},
{"data":{"name":"black"},"mark":{"type":"line","stroke":"black","strokeWidth":1.3},"encoding":{"detail":{"field":"g"},"order":{"value":null}}},
{"data":{"name":"red"},"mark":{"type":"line","stroke":"#FF0000","strokeWidth":5,"strokeCap":"round","strokeJoin":"round","interpolate":"catmull-rom"},"encoding":{"detail":{"field":"g"},"order":{"value":null}}},
{"data":{"name":"dots"},"mark":{"type":"point","shape":"circle","filled":true,"color":"#FF0000","opacity":1,"size":45}},
{"data":{"name":"ref"},"layer":[{"mark":{"type":"rule","strokeWidth":1.5,"color":"black","clip":false},"encoding":{"x2":{"field":"u"},"y2":{"field":"v"}}},{"mark":{"type":"point","shape":"M-.8,2L0,0L.8,2","filled":false,"strokeWidth":1.5,"color":"black","size":64,"angle":90}}]},
{"data":{"values":[{"x":108,"y":87,"t":"(d)"}]},"mark":{"type":"text","fontSize":42,"font":"Liberation Sans","color":"black"},"encoding":{"text":{"field":"t"}}},
{"data":{"values":[{"x":1287,"y":1384,"t":"500"}]},"mark":{"type":"text","fontSize":18,"font":"Liberation Sans","color":"black"},"encoding":{"text":{"field":"t"}}}
]},
{"width":456,"height":438.5,"encoding":{"x":{"field":"x","type":"quantitative","title":null,"scale":{"domain":[0,1368],"nice":false,"zero":false},"axis":{"values":[120,423,726,1026,1329],"grid":false,"domain":false,"tickSize":15,"tickWidth":2,"tickColor":"black","labels":false}},"y":{"field":"y","type":"quantitative","title":null,"scale":{"domain":[0,1315.5],"reverse":true,"nice":false,"zero":false},"axis":{"values":[72,459,849,1239],"grid":false,"domain":false,"tickSize":15,"tickWidth":2,"tickColor":"black","labelFont":"Liberation Sans","labelFontSize":22,"labelColor":"black","labelPadding":15,"labelExpr":"datum.value==72?'41°N':datum.value==849?'40°N':''"}}},"layer":[
{"data":{"name":"b"},"transform":[{"calculate":"atan2(datum.x-datum.u,datum.v-datum.y)*180/PI","as":"ang"},{"calculate":"pow(5.5+0.055*sqrt(pow(datum.x-datum.u,2)+pow(datum.y-datum.v,2)),2)","as":"sz"}],"layer":[{"mark":{"type":"rule","strokeWidth":2.8},"encoding":{"x2":{"field":"u"},"y2":{"field":"v"},"color":{"field":"c","scale":{"domain":["p","b","g","o"],"range":["#8B31A0","#009FFF","#00FF00","#FF9900"]},"legend":null}}},{"mark":{"type":"point","shape":"M-.8,2L0,0L.8,2","filled":false,"strokeWidth":2.8,"opacity":1},"encoding":{"angle":{"field":"ang","type":"quantitative","scale":null},"size":{"field":"sz","type":"quantitative","scale":null},"color":{"field":"c","scale":{"domain":["p","b","g","o"],"range":["#8B31A0","#009FFF","#00FF00","#FF9900"]},"legend":null}}}]},
{"data":{"name":"black"},"mark":{"type":"line","stroke":"black","strokeWidth":1.3},"encoding":{"detail":{"field":"g"},"order":{"value":null}}},
{"data":{"name":"red"},"mark":{"type":"line","stroke":"#FF0000","strokeWidth":5,"strokeCap":"round","strokeJoin":"round","interpolate":"catmull-rom"},"encoding":{"detail":{"field":"g"},"order":{"value":null}}},
{"data":{"name":"dots"},"mark":{"type":"point","shape":"circle","filled":true,"color":"#FF0000","opacity":1,"size":45}},
{"data":{"name":"ref"},"layer":[{"mark":{"type":"rule","strokeWidth":1.5,"color":"black","clip":false},"encoding":{"x2":{"field":"u"},"y2":{"field":"v"}}},{"mark":{"type":"point","shape":"M-.8,2L0,0L.8,2","filled":false,"strokeWidth":1.5,"color":"black","size":64,"angle":90}}]},
{"data":{"values":[{"x":108,"y":87,"t":"(b)"}]},"mark":{"type":"text","fontSize":42,"font":"Liberation Sans","color":"black"},"encoding":{"text":{"field":"t"}}},
{"data":{"values":[{"x":1287,"y":1384,"t":"30"}]},"mark":{"type":"text","fontSize":18,"font":"Liberation Sans","color":"black"},"encoding":{"text":{"field":"t"}}}
]},
{"width":456,"height":438.5,"encoding":{"x":{"field":"x","type":"quantitative","title":null,"scale":{"domain":[0,1368],"nice":false,"zero":false},"axis":{"values":[120,423,726,1026,1329],"grid":false,"domain":false,"tickSize":15,"tickWidth":2,"tickColor":"black","labels":false}},"y":{"field":"y","type":"quantitative","title":null,"scale":{"domain":[0,1315.5],"reverse":true,"nice":false,"zero":false},"axis":{"values":[72,459,849,1239],"grid":false,"domain":false,"tickSize":15,"tickWidth":2,"tickColor":"black","labels":false}}},"layer":[
{"data":{"name":"e"},"transform":[{"calculate":"atan2(datum.x-datum.u,datum.v-datum.y)*180/PI","as":"ang"},{"calculate":"pow(5.5+0.055*sqrt(pow(datum.x-datum.u,2)+pow(datum.y-datum.v,2)),2)","as":"sz"}],"layer":[{"mark":{"type":"rule","strokeWidth":2.8},"encoding":{"x2":{"field":"u"},"y2":{"field":"v"},"color":{"field":"c","scale":{"domain":["p","b","g","o"],"range":["#8B31A0","#009FFF","#00FF00","#FF9900"]},"legend":null}}},{"mark":{"type":"point","shape":"M-.8,2L0,0L.8,2","filled":false,"strokeWidth":2.8,"opacity":1},"encoding":{"angle":{"field":"ang","type":"quantitative","scale":null},"size":{"field":"sz","type":"quantitative","scale":null},"color":{"field":"c","scale":{"domain":["p","b","g","o"],"range":["#8B31A0","#009FFF","#00FF00","#FF9900"]},"legend":null}}}]},
{"data":{"name":"black"},"mark":{"type":"line","stroke":"black","strokeWidth":1.3},"encoding":{"detail":{"field":"g"},"order":{"value":null}}},
{"data":{"name":"red"},"mark":{"type":"line","stroke":"#FF0000","strokeWidth":5,"strokeCap":"round","strokeJoin":"round","interpolate":"catmull-rom"},"encoding":{"detail":{"field":"g"},"order":{"value":null}}},
{"data":{"name":"dots"},"mark":{"type":"point","shape":"circle","filled":true,"color":"#FF0000","opacity":1,"size":45}},
{"data":{"name":"ref"},"layer":[{"mark":{"type":"rule","strokeWidth":1.5,"color":"black","clip":false},"encoding":{"x2":{"field":"u"},"y2":{"field":"v"}}},{"mark":{"type":"point","shape":"M-.8,2L0,0L.8,2","filled":false,"strokeWidth":1.5,"color":"black","size":64,"angle":90}}]},
{"data":{"values":[{"x":108,"y":87,"t":"(e)"}]},"mark":{"type":"text","fontSize":42,"font":"Liberation Sans","color":"black"},"encoding":{"text":{"field":"t"}}},
{"data":{"values":[{"x":1287,"y":1384,"t":"500"}]},"mark":{"type":"text","fontSize":18,"font":"Liberation Sans","color":"black"},"encoding":{"text":{"field":"t"}}}
]},
{"width":456,"height":438.5,"encoding":{"x":{"field":"x","type":"quantitative","title":null,"scale":{"domain":[0,1368],"nice":false,"zero":false},"axis":{"values":[120,423,726,1026,1329],"grid":false,"domain":false,"tickSize":15,"tickWidth":2,"tickColor":"black","labelFont":"Liberation Sans","labelFontSize":22,"labelColor":"black","labelPadding":18,"labelExpr":"datum.value==423?'116°E':datum.value==1026?'117°E':''"}},"y":{"field":"y","type":"quantitative","title":null,"scale":{"domain":[0,1315.5],"reverse":true,"nice":false,"zero":false},"axis":{"values":[72,459,849,1239],"grid":false,"domain":false,"tickSize":15,"tickWidth":2,"tickColor":"black","labelFont":"Liberation Sans","labelFontSize":22,"labelColor":"black","labelPadding":15,"labelExpr":"datum.value==72?'41°N':datum.value==849?'40°N':''"}}},"layer":[
{"data":{"name":"c"},"transform":[{"calculate":"atan2(datum.x-datum.u,datum.v-datum.y)*180/PI","as":"ang"},{"calculate":"pow(5.5+0.055*sqrt(pow(datum.x-datum.u,2)+pow(datum.y-datum.v,2)),2)","as":"sz"}],"layer":[{"mark":{"type":"rule","strokeWidth":2.8},"encoding":{"x2":{"field":"u"},"y2":{"field":"v"},"color":{"field":"c","scale":{"domain":["p","b","g","o"],"range":["#8B31A0","#009FFF","#00FF00","#FF9900"]},"legend":null}}},{"mark":{"type":"point","shape":"M-.8,2L0,0L.8,2","filled":false,"strokeWidth":2.8,"opacity":1},"encoding":{"angle":{"field":"ang","type":"quantitative","scale":null},"size":{"field":"sz","type":"quantitative","scale":null},"color":{"field":"c","scale":{"domain":["p","b","g","o"],"range":["#8B31A0","#009FFF","#00FF00","#FF9900"]},"legend":null}}}]},
{"data":{"name":"black"},"mark":{"type":"line","stroke":"black","strokeWidth":1.3},"encoding":{"detail":{"field":"g"},"order":{"value":null}}},
{"data":{"name":"red"},"mark":{"type":"line","stroke":"#FF0000","strokeWidth":5,"strokeCap":"round","strokeJoin":"round","interpolate":"catmull-rom"},"encoding":{"detail":{"field":"g"},"order":{"value":null}}},
{"data":{"name":"dots"},"mark":{"type":"point","shape":"circle","filled":true,"color":"#FF0000","opacity":1,"size":45}},
{"data":{"name":"ref"},"layer":[{"mark":{"type":"rule","strokeWidth":1.5,"color":"black","clip":false},"encoding":{"x2":{"field":"u"},"y2":{"field":"v"}}},{"mark":{"type":"point","shape":"M-.8,2L0,0L.8,2","filled":false,"strokeWidth":1.5,"color":"black","size":64,"angle":90}}]},
{"data":{"values":[{"x":108,"y":87,"t":"(c)"}]},"mark":{"type":"text","fontSize":42,"font":"Liberation Sans","color":"black"},"encoding":{"text":{"field":"t"}}},
{"data":{"values":[{"x":1287,"y":1384,"t":"150"}]},"mark":{"type":"text","fontSize":18,"font":"Liberation Sans","color":"black"},"encoding":{"text":{"field":"t"}}}
]},
{"width":456,"height":438.5,"view":{"stroke":null},"encoding":{"x":{"field":"x","type":"quantitative","title":null,"scale":{"domain":[0,1368],"nice":false,"zero":false},"axis":null},"y":{"field":"y","type":"quantitative","title":null,"scale":{"domain":[0,1315.5],"reverse":true,"nice":false,"zero":false},"axis":null}},"layer":[
{"data":{"values":[{"x":710,"y":654,"q":"00-06","t0":0,"t1":1.5708},{"x":710,"y":654,"q":"06-12","t0":1.5708,"t1":3.1416},{"x":710,"y":654,"q":"12-18","t0":3.1416,"t1":4.7124},{"x":710,"y":654,"q":"18-00","t0":4.7124,"t1":6.2832}]},"mark":{"type":"arc","radius":77},"encoding":{"theta":{"field":"t0","type":"quantitative","scale":null},"theta2":{"field":"t1"},"color":{"field":"q","scale":{"domain":["18-00","00-06","06-12","12-18"],"range":["#8B31A0","#009FFF","#00FF00","#FF9900"]},"legend":null}}},
{"data":{"values":[{"x":710,"y":400,"u":710,"v":908},{"x":450,"y":654,"u":970,"v":654}]},"mark":{"type":"rule","strokeWidth":9,"color":"black"},"encoding":{"x2":{"field":"u"},"y2":{"field":"v"}}},
{"data":{"values":[{"x":710,"y":330,"a":0},{"x":1035,"y":654,"a":90},{"x":710,"y":978,"a":180},{"x":384,"y":654,"a":270}]},"mark":{"type":"point","shape":"M0,0L-.7,2L.7,2Z","filled":true,"color":"black","opacity":1,"size":784},"encoding":{"angle":{"field":"a","type":"quantitative","scale":null}}},
{"data":{"values":[{"x":711,"y":282,"t":"00"},{"x":1125,"y":654,"t":"06"},{"x":711,"y":1029,"t":"12"},{"x":294,"y":654,"t":"18"}]},"mark":{"type":"text","fontSize":36,"font":"Liberation Sans","color":"black"},"encoding":{"text":{"field":"t"}}}
]}
]}
